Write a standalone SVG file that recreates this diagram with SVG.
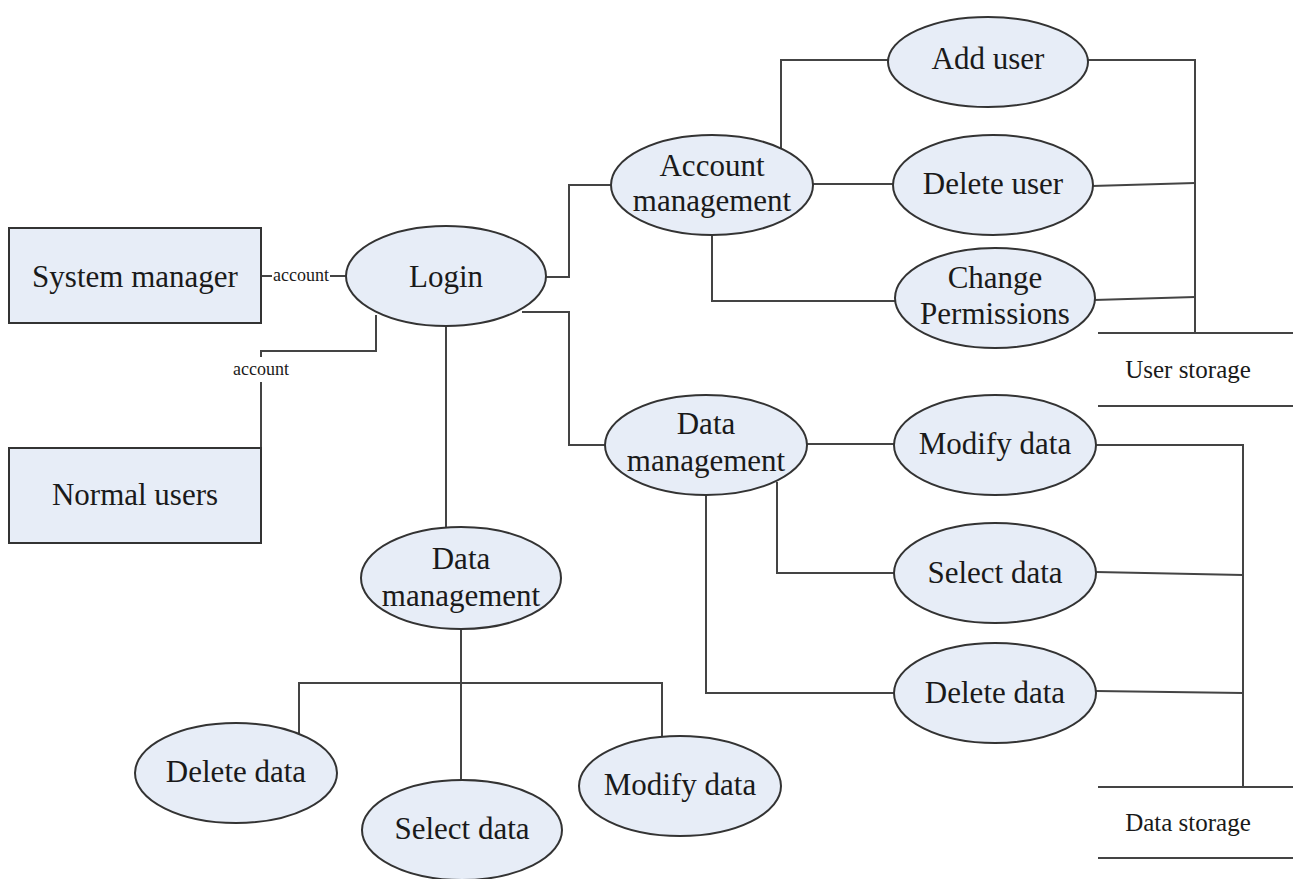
<svg xmlns="http://www.w3.org/2000/svg" width="1293" height="879" viewBox="0 0 1293 879">
<style>
.n{fill:#e7edf7;stroke:#333;stroke-width:2}
.t{font-family:"Liberation Serif","Times New Roman",serif;font-size:31px;fill:#1a1a1a;text-anchor:middle}
.s{font-family:"Liberation Serif","Times New Roman",serif;font-size:18px;fill:#1a1a1a;text-anchor:middle}
.m{font-family:"Liberation Serif","Times New Roman",serif;font-size:25px;fill:#1a1a1a;text-anchor:middle}
.c{fill:none;stroke:#444;stroke-width:2}
</style>
<rect width="1293" height="879" fill="#fff"/>
<g id="connectors">
<path class="c" d="M261,276 H272 M330,276 H346"/>
<path class="c" d="M376,315 V351 H261 V357 M261,382 V448"/>
<path class="c" d="M545,277 H569 V185 H611"/>
<path class="c" d="M522,312 H569 V445 H605"/>
<path class="c" d="M781,148 V60 H888"/>
<path class="c" d="M813,184 H894"/>
<path class="c" d="M712,235 V301 H895"/>
<path class="c" d="M1087,60 H1195 V333"/>
<path class="c" d="M1092,186 L1195,183"/>
<path class="c" d="M1094,300 L1195,297"/>
<path class="c" d="M1098,333 H1293 M1098,406 H1293"/>
<path class="c" d="M807,444 H894"/>
<path class="c" d="M777,482 V573 H894"/>
<path class="c" d="M706,495 V693 H894"/>
<path class="c" d="M1096,445 H1243 V787"/>
<path class="c" d="M1096,572 L1243,575"/>
<path class="c" d="M1096,691 L1243,693"/>
<path class="c" d="M1098,787 H1293 M1098,858 H1293"/>
<path class="c" d="M446,326 V528"/>
<path class="c" d="M461,629 V780 M299,735 V683 H662 V736"/>
</g>
<g id="system-manager"><rect class="n" x="9" y="228" width="252" height="95"/><text class="t" x="135" y="287">System manager</text></g>
<g id="normal-users"><rect class="n" x="9" y="448" width="252" height="95"/><text class="t" x="135" y="505">Normal users</text></g>
<g id="label-account-1"><text class="s" x="301" y="281">account</text></g>
<g id="label-account-2"><text class="s" x="261" y="375">account</text></g>
<g id="login"><ellipse class="n" cx="446" cy="276" rx="100" ry="50"/><text class="t" x="446" y="287">Login</text></g>
<g id="account-management"><ellipse class="n" cx="712" cy="185" rx="101" ry="50"/><text class="t" x="712" y="176">Account</text><text class="t" x="712" y="211">management</text></g>
<g id="add-user"><ellipse class="n" cx="988" cy="62" rx="100" ry="45"/><text class="t" x="988" y="69">Add user</text></g>
<g id="delete-user"><ellipse class="n" cx="993" cy="185" rx="100" ry="50"/><text class="t" x="993" y="194">Delete user</text></g>
<g id="change-permissions"><ellipse class="n" cx="995" cy="298" rx="100" ry="50"/><text class="t" x="995" y="288">Change</text><text class="t" x="995" y="324">Permissions</text></g>
<g id="user-storage"><text class="m" x="1188" y="378">User storage</text></g>
<g id="data-management-right"><ellipse class="n" cx="706" cy="445" rx="101" ry="50"/><text class="t" x="706" y="434">Data</text><text class="t" x="706" y="471">management</text></g>
<g id="modify-data-right"><ellipse class="n" cx="995" cy="445" rx="101" ry="50"/><text class="t" x="995" y="454">Modify data</text></g>
<g id="select-data-right"><ellipse class="n" cx="995" cy="573" rx="101" ry="50"/><text class="t" x="995" y="583">Select data</text></g>
<g id="delete-data-right"><ellipse class="n" cx="995" cy="693" rx="101" ry="50"/><text class="t" x="995" y="703">Delete data</text></g>
<g id="data-storage"><text class="m" x="1188" y="831">Data storage</text></g>
<g id="data-management-bottom"><ellipse class="n" cx="461" cy="578" rx="100" ry="51"/><text class="t" x="461" y="569">Data</text><text class="t" x="461" y="606">management</text></g>
<g id="delete-data-bottom"><ellipse class="n" cx="236" cy="773" rx="101" ry="50"/><text class="t" x="236" y="782">Delete data</text></g>
<g id="select-data-bottom"><ellipse class="n" cx="462" cy="830" rx="100" ry="50"/><text class="t" x="462" y="839">Select data</text></g>
<g id="modify-data-bottom"><ellipse class="n" cx="680" cy="786" rx="101" ry="50"/><text class="t" x="680" y="795">Modify data</text></g>
</svg>
